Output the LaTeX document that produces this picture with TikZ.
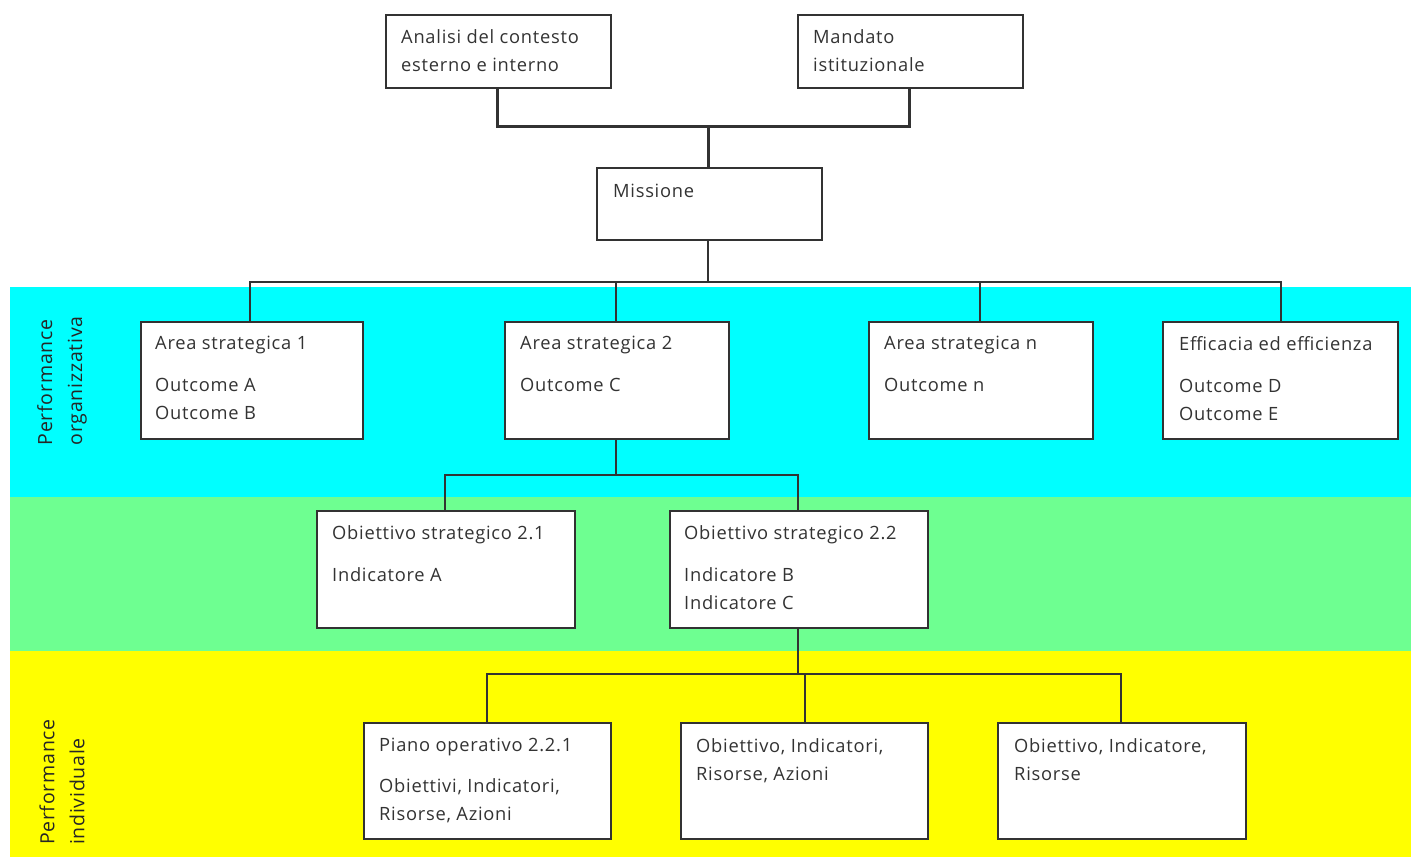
\documentclass[tikz,border=0pt]{standalone}
\usepackage{fontspec}
\setmainfont{Open Sans}[LetterSpace=4]
\usetikzlibrary{calc}
\definecolor{bandcyan}{RGB}{0,255,255}
\definecolor{bandgreen}{RGB}{110,255,145}
\definecolor{bandyellow}{RGB}{255,255,0}
\definecolor{linegray}{RGB}{50,50,50}
\tikzset{
  boxthin/.style={draw=linegray, line width=1.5pt, fill=white, rectangle, inner sep=0pt},
  boxthick/.style={draw=linegray, line width=2.4pt, fill=white, rectangle, inner sep=0pt},
  txt/.style={anchor=north west, inner sep=0pt, align=left, text=black!80, font=\fontsize{18.3}{28}\selectfont},
  side/.style={inner sep=0pt, align=left, rotate=90, text=black!85, font=\fontsize{19.5}{30}\selectfont},
  conthick/.style={draw=linegray, line width=3pt},
  conthin/.style={draw=linegray, line width=1.8pt},
}
\newcommand{\mybox}[6]{% style, name, x1, y1, x2, y2
  \node[#1, anchor=north west, minimum width=#5-#3, minimum height=#6-#4] (#2) at (#3,#4) {};}
\begin{document}
\begin{tikzpicture}[x=1pt,y=-1pt]
\useasboundingbox (0,0) rectangle (1411,857);
% bands
\fill[bandcyan] (10,287) rectangle (1411,497);
\fill[bandgreen] (10,497) rectangle (1411,651);
\fill[bandyellow] (10,651) rectangle (1411,857);
% side labels
\node[side] (perforg) at (62,381) {Performance\\organizzativa};
\node[side] (perfind) at (62,782) {Performance\\individuale};

% junctions
\coordinate (j1) at (708,126);
\coordinate (j2) at (708,282);
\coordinate (j3) at (616,475);
\coordinate (j4) at (798,674);

\mybox{boxthick}{analisi}{385}{14}{610}{87}
\mybox{boxthick}{mandato}{797}{14}{1022}{87}
\mybox{boxthin}{missione}{596}{167}{821}{239}
\mybox{boxthin}{area1}{140}{321}{362}{438}
\mybox{boxthin}{area2}{504}{321}{728}{438}
\mybox{boxthin}{arean}{868}{321}{1092}{438}
\mybox{boxthin}{effic}{1162}{321}{1397}{438}
\mybox{boxthin}{ob21}{316}{510}{574}{627}
\mybox{boxthin}{ob22}{669}{510}{927}{627}
\mybox{boxthin}{piano}{363}{722}{610}{838}
\mybox{boxthin}{obind}{680}{722}{927}{838}
\mybox{boxthin}{obris}{997}{722}{1245}{838}

% connectors
\draw[conthick] (analisi.south -| 497,0) |- (j1) -| (mandato.south -| 909,0);
\draw[conthick] (j1) -- (j1 |- missione.north);
\draw[conthin] (j2 |- missione.south) -- (j2);
\draw[conthin] (j2) -| (area1.north -| 250,0);
\draw[conthin] (j2) -| (effic.north -| 1281,0);
\draw[conthin] (area2.north -| 616,0) -- (616,282);
\draw[conthin] (arean.north -| 980,0) -- (980,282);
\draw[conthin] (j3 |- area2.south) -- (j3);
\draw[conthin] (j3) -| (ob21.north -| 445,0);
\draw[conthin] (j3) -| (ob22.north -| 798,0);
\draw[conthin] (j4 |- ob22.south) -- (j4);
\draw[conthin] (j4) -| (piano.north -| 487,0);
\draw[conthin] (j4) -| (obris.north -| 1121,0);
\draw[conthin] (obind.north -| 805,0) -- (805,674);

% texts
\node[txt] (tanalisi) at ($(analisi.north west)+(16,15)$) {Analisi del contesto\\esterno e interno};
\node[txt] (tmandato) at ($(mandato.north west)+(16,15)$) {Mandato\\istituzionale};
\node[txt] (tmissione) at ($(missione.north west)+(17,17)$) {Missione};
\node[txt] (tarea1) at ($(area1.north west)+(15,15)$) {Area strategica 1\\[14pt]Outcome A\\Outcome B};
\node[txt] (tarea2) at ($(area2.north west)+(16,15)$) {Area strategica 2\\[14pt]Outcome C};
\node[txt] (tarean) at ($(arean.north west)+(16,15)$) {Area strategica n\\[14pt]Outcome n};
\node[txt] (teffic) at ($(effic.north west)+(17,15)$) {Efficacia ed efficienza\\[14pt]Outcome D\\Outcome E};
\node[txt] (tob21) at ($(ob21.north west)+(16,15)$) {Obiettivo strategico 2.1\\[14pt]Indicatore A};
\node[txt] (tob22) at ($(ob22.north west)+(15,15)$) {Obiettivo strategico 2.2\\[14pt]Indicatore B\\Indicatore C};
\node[txt] (tpiano) at ($(piano.north west)+(16,16)$) {Piano operativo 2.2.1\\[13pt]Obiettivi, Indicatori,\\Risorse, Azioni};
\node[txt] (tobind) at ($(obind.north west)+(16,16)$) {Obiettivo, Indicatori,\\Risorse, Azioni};
\node[txt] (tobris) at ($(obris.north west)+(17,16)$) {Obiettivo, Indicatore,\\Risorse};
\end{tikzpicture}
\end{document}
